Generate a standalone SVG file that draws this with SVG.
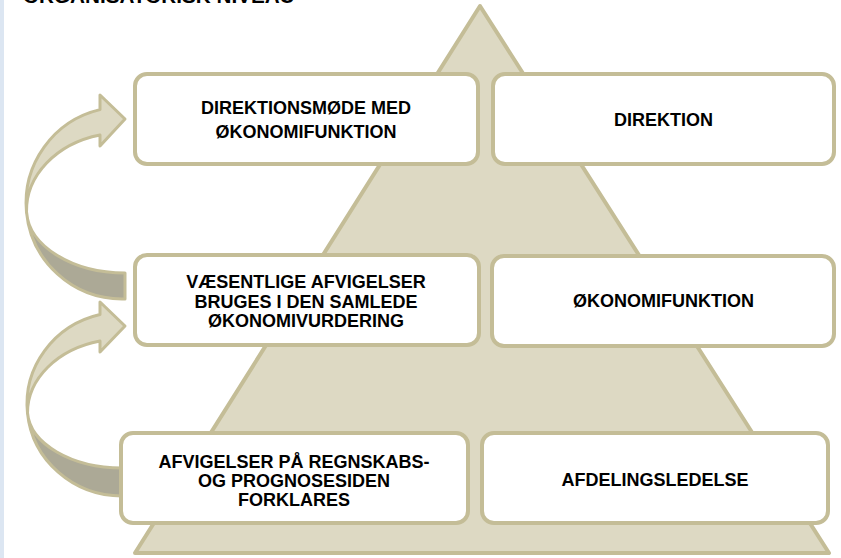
<svg xmlns="http://www.w3.org/2000/svg" width="841" height="558" viewBox="0 0 841 558">
<style>
.box{fill:#ffffff;stroke:#c4bd97;stroke-width:4}
.pyr{fill:#ddd9c3;stroke:#c4bd97;stroke-width:4;stroke-linejoin:round}
.front{fill:#ddd9c3;stroke:#c4bd97;stroke-width:3;stroke-linejoin:round}
.back{fill:#aca996;stroke:#c4bd97;stroke-width:3;stroke-linejoin:round}
text{font-family:"Liberation Sans",Arial,sans-serif;font-weight:bold;font-size:18px;fill:#000000;text-anchor:middle}
</style>
<rect x="0" y="0" width="841" height="558" fill="#ffffff"/>
<rect x="0" y="0" width="4" height="558" fill="#dce6f2"/>
<text x="23" y="3" style="text-anchor:start;font-size:20.7px">ORGANISATORISK NIVEAU</text>
<g id="pyramid">
<polygon class="pyr" points="480,6 829,553 135,553"/>
</g>
<g id="connectors">
<g id="arrow-upper">
<path class="back" d="M 26.5 212 A 96 96 0 0 0 122 299 L 125 299 L 125 273 A 99 64 0 0 1 26.5 212 Z"/>
<path class="front" d="M 100 109.6 A 96 96 0 0 0 26.5 212 A 96 78 0 0 1 100 135 L 100 146 L 125 119 L 100 95 Z"/>
</g>
<g id="arrow-lower">
<path class="back" d="M 27.5 413 A 95 92 0 0 0 122 496 L 122 496 L 122 468 A 95 58 0 0 1 27.5 413 Z"/>
<path class="front" d="M 100 314.5 A 95 92 0 0 0 27.5 413 A 95 74 0 0 1 100 341 L 100 352 L 125 326 L 100 302 Z"/>
</g>
</g>
<g id="node-direktionsmoede">
<rect class="box" x="135" y="74" width="343" height="90" rx="12"/>
<text x="306" y="114">DIREKTIONSMØDE MED</text>
<text x="306" y="138">ØKONOMIFUNKTION</text>
</g>
<g id="node-direktion">
<rect class="box" x="493" y="74" width="341" height="90" rx="12"/>
<text x="663.5" y="126">DIREKTION</text>
</g>
<g id="node-vaesentlige">
<rect class="box" x="135" y="255" width="344" height="90" rx="12"/>
<text x="306" y="288">VÆSENTLIGE AFVIGELSER</text>
<text x="306" y="308">BRUGES I DEN SAMLEDE</text>
<text x="306" y="327">ØKONOMIVURDERING</text>
</g>
<g id="node-oekonomifunktion">
<rect class="box" x="492" y="256" width="342" height="90" rx="12"/>
<text x="663.5" y="307">ØKONOMIFUNKTION</text>
</g>
<g id="node-afvigelser">
<rect class="box" x="121" y="433" width="347" height="90" rx="12"/>
<text x="294" y="468">AFVIGELSER PÅ REGNSKABS-</text>
<text x="294" y="487">OG PROGNOSESIDEN</text>
<text x="294" y="506">FORKLARES</text>
</g>
<g id="node-afdelingsledelse">
<rect class="box" x="482" y="433" width="346" height="90" rx="12"/>
<text x="655" y="486">AFDELINGSLEDELSE</text>
</g>
</svg>
